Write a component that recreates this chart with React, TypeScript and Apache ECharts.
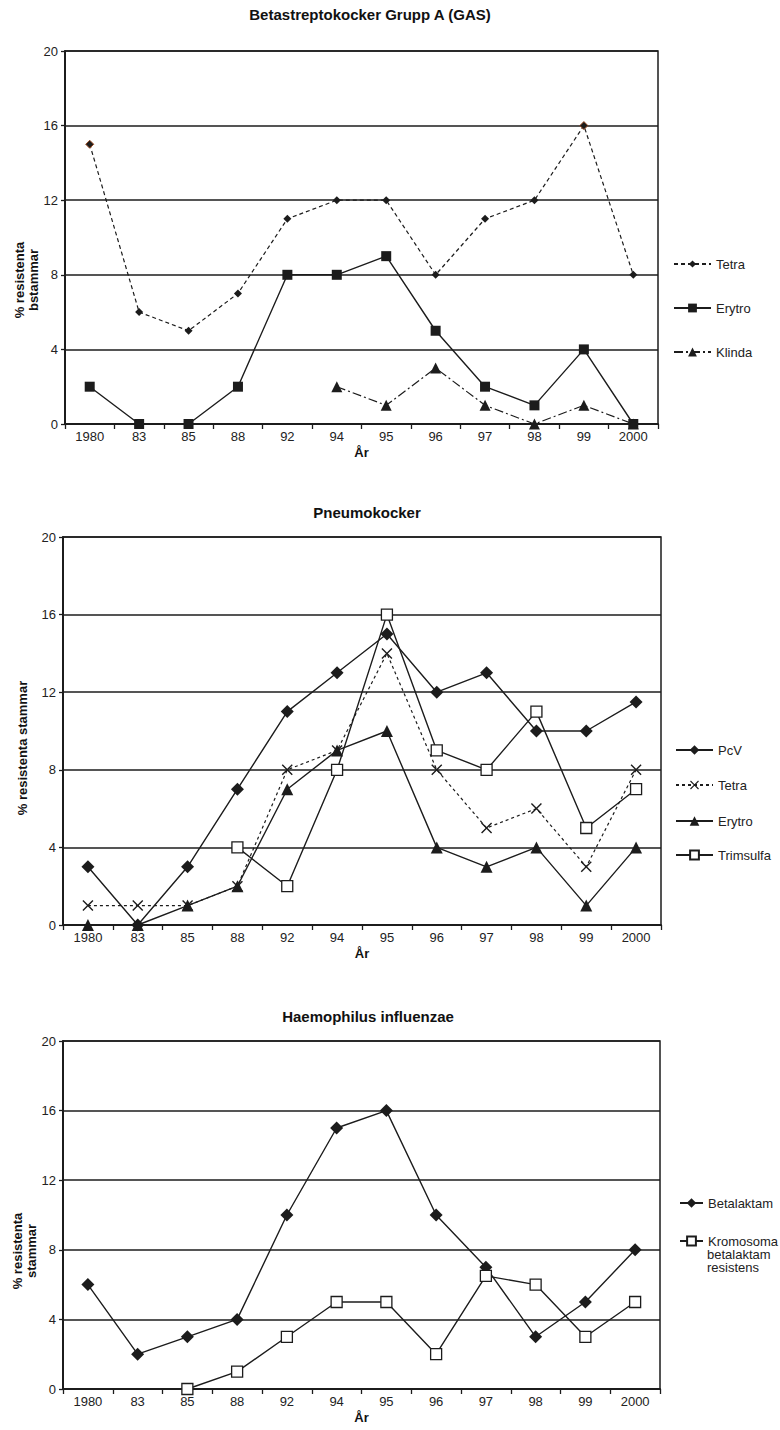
import React, { useEffect, useRef } from "react";
import * as echarts from "echarts";

// Survey years (x categories) and the shared y scale
const years = ["1980", "83", "85", "88", "92", "94", "95", "96", "97", "98", "99", "2000"];
const yMin = 0;
const yMax = 20;
const yStep = 4;

// Betastreptokocker Grupp A (GAS), % resistant strains
const gasTetra = [15, 6, 5, 7, 11, 12, 12, 8, 11, 12, 16, 8];
const gasErytro = [2, 0, 0, 2, 8, 8, 9, 5, 2, 1, 4, 0];
const gasKlinda = [null, null, null, null, null, 2, 1, 3, 1, 0, 1, 0];

// Pneumokocker, % resistant strains
const pnePcV = [3, 0, 3, 7, 11, 13, 15, 12, 13, 10, 10, 11.5];
const pneTetra = [1, 1, 1, 2, 8, 9, 14, 8, 5, 6, 3, 8];
const pneErytro = [0, 0, 1, 2, 7, 9, 10, 4, 3, 4, 1, 4];
const pneTrimsulfa = [null, null, null, 4, 2, 8, 16, 9, 8, 11, 5, 7];

// Haemophilus influenzae, % resistant strains
const hiBetalaktamas = [6, 2, 3, 4, 10, 15, 16, 10, 7, 3, 5, 8];
const hiKromosomal = [null, null, 0, 1, 3, 5, 5, 2, 6.5, 6, 3, 5];

const FONT = '"Liberation Sans", Arial, Helvetica, sans-serif';
const INK = "#1c1c1c";
const TEXT = "#222";
const CROSS =
  "path://M0,0.9L0.9,0L5,4.1L9.1,0L10,0.9L5.9,5L10,9.1L9.1,10L5,5.9L0.9,10L0,9.1L4.1,5Z";

// Panel geometry
const panels = [
  {
    title: "Betastreptokocker Grupp A (GAS)",
    yName: "% resistenta\nbstammar",
    grid: { left: 65, top: 51, width: 593, height: 373 },
    titleX: 370,
    titleY: 14,
    yNameX: 26,
    yNameY: 280,
  },
  {
    title: "Pneumokocker",
    yName: "% resistenta stammar",
    grid: { left: 63, top: 537, width: 598, height: 388 },
    titleX: 367,
    titleY: 512,
    yNameX: 22,
    yNameY: 748,
  },
  {
    title: "Haemophilus influenzae",
    yName: "% resistenta\nstammar",
    grid: { left: 63, top: 1041, width: 597, height: 348 },
    titleX: 368,
    titleY: 1016,
    yNameX: 24,
    yNameY: 1251,
  },
];

type LineSpec = {
  id: string;
  label: string;
  panel: number;
  data: (number | null)[];
  symbol: string;
  size: number;
  fill: string;
  dash: "solid" | number[];
  width: number;
  legendX: number;
  legendY: number;
  legendW: number;
  legendH: number;
};

// The bottom panel's legend runs into the right page edge, so only the
// part of each word that fits on the page is printed there.
const lines: LineSpec[] = [
  { id: "gas-tetra", label: "Tetra", panel: 0, data: gasTetra, symbol: "diamond", size: 8, fill: INK, dash: [4, 3], width: 1.2, legendX: 673, legendY: 264, legendW: 37, legendH: 9 },
  { id: "gas-erytro", label: "Erytro", panel: 0, data: gasErytro, symbol: "rect", size: 10, fill: INK, dash: "solid", width: 1.4, legendX: 673, legendY: 308, legendW: 37, legendH: 11 },
  { id: "gas-klinda", label: "Klinda", panel: 0, data: gasKlinda, symbol: "triangle", size: 11, fill: INK, dash: [9, 3, 2, 3], width: 1.2, legendX: 673, legendY: 352, legendW: 37, legendH: 11 },
  { id: "pne-pcv", label: "PcV", panel: 1, data: pnePcV, symbol: "diamond", size: 13, fill: INK, dash: "solid", width: 1.4, legendX: 675, legendY: 750, legendW: 37, legendH: 12 },
  { id: "pne-tetra", label: "Tetra", panel: 1, data: pneTetra, symbol: CROSS, size: 11, fill: INK, dash: [3, 3], width: 1.2, legendX: 675, legendY: 785, legendW: 37, legendH: 11 },
  { id: "pne-erytro", label: "Erytro", panel: 1, data: pneErytro, symbol: "triangle", size: 12, fill: INK, dash: "solid", width: 1.4, legendX: 675, legendY: 821, legendW: 37, legendH: 12 },
  { id: "pne-trimsulfa", label: "Trimsulfa", panel: 1, data: pneTrimsulfa, symbol: "rect", size: 11, fill: "#fff", dash: "solid", width: 1.4, legendX: 675, legendY: 855, legendW: 37, legendH: 11 },
  { id: "hi-beta", label: "Betalaktam", panel: 2, data: hiBetalaktamas, symbol: "diamond", size: 13, fill: INK, dash: "solid", width: 1.4, legendX: 679, legendY: 1203, legendW: 23, legendH: 12 },
  { id: "hi-krom", label: "Kromosoma", panel: 2, data: hiKromosomal, symbol: "rect", size: 11, fill: "#fff", dash: "solid", width: 1.4, legendX: 679, legendY: 1241, legendW: 23, legendH: 11 },
];

// Extra lines of the wrapped legend entry in the bottom panel
const kromosomalMoreLines = ["betalaktam", "resistens"];

function buildOption() {
  const grids = panels.map((p) => ({
    ...p.grid,
    show: true,
    borderColor: INK,
    borderWidth: 1.5,
    backgroundColor: "transparent",
  }));

  const xAxes = panels.map((_, i) => ({
    gridIndex: i,
    type: "category",
    data: years,
    boundaryGap: true,
    axisLine: { lineStyle: { color: INK, width: 2 } },
    axisTick: { show: true, length: 5, lineStyle: { color: INK, width: 1.3 } },
    axisLabel: { interval: 0, color: TEXT, fontSize: 13, fontFamily: FONT, margin: 6 },
    splitLine: { show: false },
    name: "År",
    nameLocation: "middle",
    nameGap: 22,
    nameTextStyle: { fontWeight: "bold", fontSize: 13, color: "#111", fontFamily: FONT },
  }));

  const yAxes = panels.map((_, i) => ({
    gridIndex: i,
    type: "value",
    min: yMin,
    max: yMax,
    interval: yStep,
    axisLine: { show: true, lineStyle: { color: INK, width: 2 } },
    axisTick: { show: true, length: 4, lineStyle: { color: INK, width: 1.3 } },
    axisLabel: { color: TEXT, fontSize: 13, fontFamily: FONT, margin: 7 },
    splitLine: { show: true, lineStyle: { color: INK, width: 1.5 } },
  }));

  const series = lines.map((s, k) => ({
    type: "line",
    name: s.id,
    xAxisIndex: s.panel,
    yAxisIndex: s.panel,
    data: s.data.map((v, j) => {
      if (v === null) return "-";
      // two Tetra points in the GAS panel carry a brownish outline
      if (s.id === "gas-tetra" && (years[j] === "1980" || years[j] === "99")) {
        return { value: v, itemStyle: { borderColor: "#9a4a22", borderWidth: 1 } };
      }
      return v;
    }),
    symbol: s.symbol,
    symbolSize: s.size,
    showSymbol: true,
    connectNulls: false,
    silent: true,
    z: 2 + k,
    lineStyle: { color: INK, width: s.width, type: s.dash },
    itemStyle: {
      color: s.fill,
      borderColor: INK,
      borderWidth: s.fill === "#fff" ? 1.3 : 0,
    },
    emphasis: { disabled: true },
  }));

  const labelOf: Record<string, string> = {};
  lines.forEach((s) => (labelOf[s.id] = s.label));

  const legends = lines.map((s) => ({
    data: [s.id],
    left: s.legendX,
    top: s.legendY - 7,
    padding: 0,
    itemGap: 0,
    itemWidth: s.legendW,
    itemHeight: s.legendH,
    selectedMode: false,
    formatter: (name: string) => labelOf[name],
    textStyle: { color: TEXT, fontSize: 13, fontFamily: FONT, lineHeight: 14 },
  }));

  const krom = lines.find((s) => s.id === "hi-krom")!;
  const graphics: any[] = [];
  panels.forEach((p) => {
    graphics.push({
      type: "text",
      x: p.titleX,
      y: p.titleY,
      style: {
        text: p.title,
        font: `bold 15px ${FONT}`,
        fill: "#111",
        textAlign: "center",
        textVerticalAlign: "middle",
      },
    });
    graphics.push({
      type: "text",
      x: p.yNameX,
      y: p.yNameY,
      rotation: Math.PI / 2,
      style: {
        text: p.yName,
        font: `bold 13px ${FONT}`,
        fill: "#111",
        lineHeight: 14,
        textAlign: "center",
        textVerticalAlign: "middle",
      },
    });
  });
  kromosomalMoreLines.forEach((t, i) => {
    graphics.push({
      type: "text",
      x: krom.legendX + krom.legendW + 5,
      y: krom.legendY + 13 * (i + 1),
      style: {
        text: t,
        font: `13px ${FONT}`,
        fill: TEXT,
        textAlign: "left",
        textVerticalAlign: "middle",
      },
    });
  });

  return {
    animation: false,
    backgroundColor: "#fff",
    textStyle: { fontFamily: FONT },
    grid: grids,
    xAxis: xAxes,
    yAxis: yAxes,
    legend: legends,
    series,
    graphic: graphics,
  };
}

export default function App() {
  const ref = useRef<HTMLDivElement>(null);

  useEffect(() => {
    if (!ref.current) return;
    const chart = echarts.init(ref.current, undefined, { renderer: "svg" });
    chart.setOption(buildOption() as any);
    return () => chart.dispose();
  }, []);

  return (
    <div
      ref={ref}
      style={{ position: "absolute", left: 0, top: 0, width: 780, height: 1430, background: "#fff" }}
    />
  );
}
